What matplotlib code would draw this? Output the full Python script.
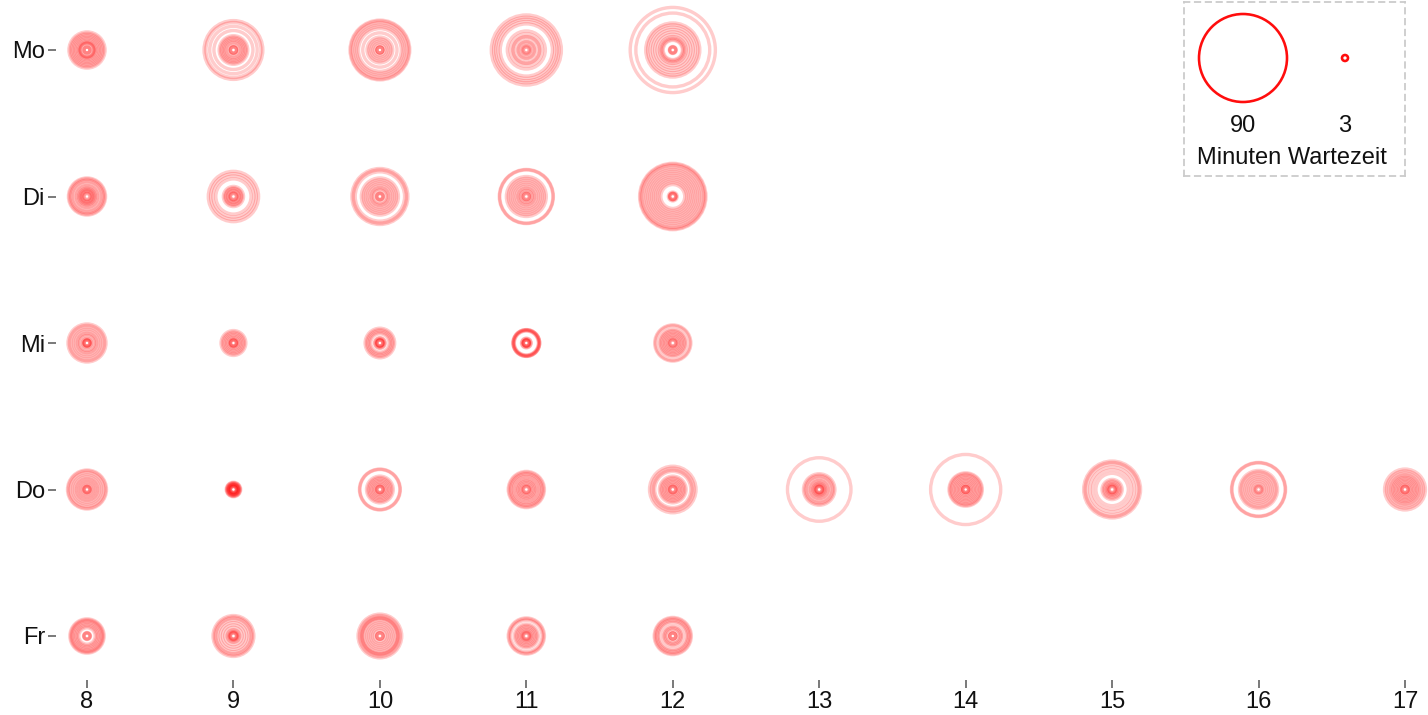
import matplotlib
matplotlib.use("Agg")
import matplotlib.pyplot as plt
import numpy as np

plt.rcParams['font.family'] = ['Liberation Sans', 'DejaVu Sans']

days = ["Mo", "Di", "Mi", "Do", "Fr"]
hours = [8, 9, 10, 11, 12, 13, 14, 15, 16, 17]

# waiting times (minutes) per day, per hour
mo = {
    8: [3, 3, 3, 10, 11, 12, 14, 17, 20, 23, 26, 29, 32, 35],
    9: [3, 3, 4, 8, 12, 15, 18, 21, 24, 27, 38, 47, 55, 59],
    10: [3, 3, 3, 8, 12, 16, 20, 24, 33, 42, 46, 50, 54, 58, 60],
    11: [3, 3, 6, 10, 14, 17, 24, 25, 31, 37, 52, 57, 62, 66, 71],
    12: [3, 3, 4, 17, 19, 22, 25, 30, 35, 40, 45, 50, 54, 75, 87],
}
di = {
    8: [3, 3, 6, 8, 10, 12, 14, 17, 20, 24, 28, 31, 34, 36],
    9: [3, 3, 5, 8, 10, 13, 15, 18, 34, 40, 45, 50],
    10: [3, 3, 4, 10, 13, 16, 20, 24, 28, 32, 36, 49, 53, 56],
    11: [3, 3, 5, 9, 12, 15, 19, 23, 27, 31, 35, 39, 53, 54],
    12: [3, 3, 4, 6, 22, 26, 30, 34, 38, 42, 46, 50, 54, 58, 62, 65, 67],
}
mi = {
    8: [3, 3, 3, 5, 7, 12, 15, 18, 22, 26, 30, 34, 37],
    9: [3, 3, 3, 5, 8, 11, 14, 17, 20, 23],
    10: [3, 3, 3, 5, 7, 8, 16, 19, 22, 25, 28],
    11: [3, 3, 3, 4, 6, 7, 22, 23, 24, 25, 25],
    12: [3, 3, 5, 8, 11, 14, 17, 20, 23, 26, 33, 35],
}
do = {
    8: [3, 3, 3, 6, 10, 13, 17, 20, 24, 28, 32, 36, 38],
    9: [3, 3, 3, 4, 5, 6, 7, 8, 9, 10, 11, 12],
    10: [3, 3, 4, 7, 10, 13, 16, 19, 22, 25, 39, 40],
    11: [3, 3, 5, 8, 11, 14, 17, 20, 24, 27, 30, 33, 35],
    12: [3, 3, 4, 7, 10, 13, 16, 19, 22, 25, 35, 38, 42, 46],
    13: [3, 3, 4, 6, 8, 10, 13, 16, 20, 24, 27, 30, 64],
    14: [3, 3, 3, 6, 9, 12, 15, 18, 21, 24, 27, 30, 32, 71],
    15: [3, 3, 5, 7, 9, 12, 15, 18, 31, 38, 44, 50, 54, 57],
    16: [3, 3, 6, 10, 14, 18, 22, 26, 30, 34, 37, 53, 54],
    17: [3, 3, 4, 7, 10, 13, 16, 19, 22, 25, 28, 32, 36, 40],
}
fr = {
    8: [3, 3, 4, 14, 17, 20, 23, 26, 29, 31, 33],
    9: [3, 3, 4, 6, 8, 10, 15, 20, 25, 30, 34, 37, 40],
    10: [3, 3, 4, 9, 13, 17, 21, 25, 29, 33, 35, 36, 40, 43],
    11: [3, 3, 5, 7, 10, 13, 16, 19, 22, 30, 33, 35],
    12: [3, 3, 3, 9, 12, 15, 18, 25, 28, 31, 34, 36],
}
data = [mo, di, mi, do, fr]

legend_values = [90, 3]
legend_title = "Minuten Wartezeit"

DPI = 100
W, H = 1428, 715


def radius_px(v):
    v = np.asarray(v, dtype=float)
    return 3 + (v - 3) * 41.0 / 87.0


def size_pts2(v):
    return (2 * radius_px(v) * 72.0 / DPI) ** 2


fig = plt.figure(figsize=(W / DPI, H / DPI), dpi=DPI)
ax = fig.add_axes([56 / W, (H - 680) / H, (W - 56) / W, 680 / H])
ax.set_xlim(8 - 31 / 146.44, 17 + 23 / 146.44)
ax.set_ylim(4 + 44 / 146.5, -50 / 146.5)

xs, ys, ss = [], [], []
for di_idx, row in enumerate(data):
    for h, vals in row.items():
        for v in vals:
            xs.append(h)
            ys.append(di_idx)
            ss.append(size_pts2(v))

ax.scatter(xs, ys, s=ss, facecolors='none',
           edgecolors=(1.0, 0.0, 0.0, 0.2), linewidths=3.4 * 72 / DPI,
           clip_on=False, zorder=2)

for sp in ax.spines.values():
    sp.set_visible(False)
ax.set_xticks(hours)
ax.set_xticklabels([str(h) for h in hours])
ax.set_yticks(range(len(days)))
ax.set_yticklabels(days)
ax.tick_params(axis='both', length=6, width=1.1, color='#555555',
               labelsize=17, labelcolor='#111111', pad=2)

# legend box
lax = fig.add_axes([1184 / W, (H - 176) / H, 221 / W, 174 / H])
lax.set_xlim(0, 221)
lax.set_ylim(174, 0)
lax.set_xticks([])
lax.set_yticks([])
lax.patch.set_alpha(0)
for sp in lax.spines.values():
    sp.set_linestyle((0, (3, 3)))
    sp.set_color('#cccccc')
    sp.set_linewidth(1.3)

lx = [59, 161]
lax.scatter(lx, [56, 56], s=size_pts2(legend_values), facecolors='none',
            edgecolors=(1.0, 0.05, 0.05, 1.0), linewidths=2.6 * 72 / DPI,
            clip_on=False)
for x, v in zip(lx, legend_values):
    lax.text(x, 124, str(v), ha='center', va='center', fontsize=17,
             color='#111111')
lax.text(108, 156, legend_title, ha='center', va='center', fontsize=17,
         color='#111111')

fig.savefig("out.png", dpi=DPI)
